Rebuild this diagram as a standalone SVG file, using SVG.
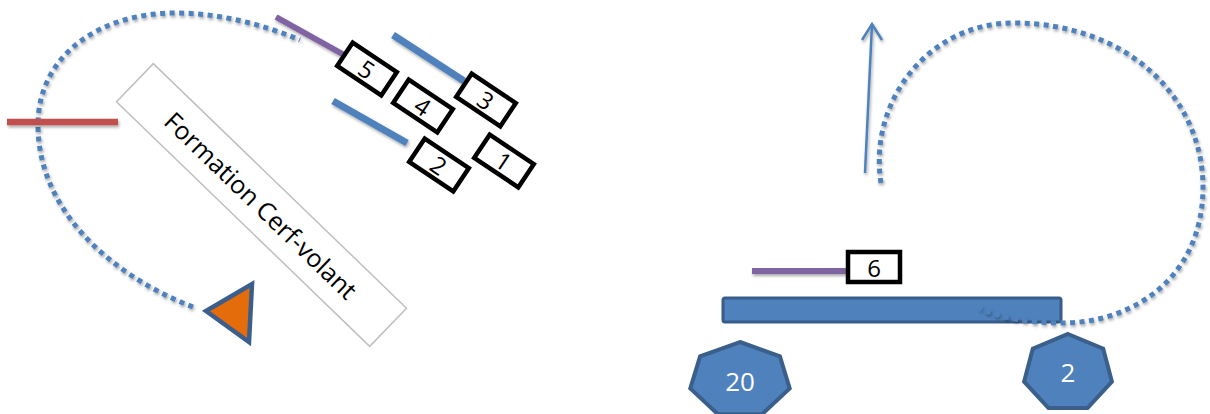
<svg xmlns="http://www.w3.org/2000/svg" width="1210" height="414" viewBox="0 0 1210 414">
<style>
.dots{fill:none;stroke:#4F81BD;stroke-width:5;stroke-dasharray:5 4.5}
.bline{stroke:#4F81BD;stroke-width:7}
.pline{stroke:#8064A2;stroke-width:6}
.box{fill:#fff;stroke:#000;stroke-width:4.5}
.num{font-family:"Open Sans","Liberation Sans",sans-serif;font-size:24px;fill:#000;text-anchor:middle;dominant-baseline:central}
.hep{fill:#4F81BD;stroke:#3A5F8B;stroke-width:4;stroke-linejoin:miter}
.wnum{font-family:"Open Sans","Liberation Sans",sans-serif;font-size:26px;fill:#fff;text-anchor:middle;dominant-baseline:central}
</style>
<defs>
<filter id="sh" filterUnits="userSpaceOnUse" x="0" y="0" width="1210" height="414">
<feDropShadow dx="1" dy="2" stdDeviation="1.5" flood-color="#000" flood-opacity="0.35"/>
</filter>
</defs>
<rect width="1210" height="414" fill="#fff"/>

<g id="label-box">
<g transform="translate(261.5,205) rotate(44)">
<rect x="-176" y="-26.5" width="352" height="53" fill="#fff" stroke="#BFBFBF" stroke-width="1.5"/>
<text x="0" y="0" font-family="Open Sans, Liberation Sans, sans-serif" font-size="25" fill="#000" text-anchor="middle" dominant-baseline="central">Formation Cerf-volant</text>
</g>
</g>

<g id="bar">
<rect x="723" y="298" width="338" height="24" rx="2" fill="#4F81BD" stroke="#385D8A" stroke-width="3"/>
</g>

<g id="connectors" filter="url(#sh)">
<path class="dots" d="M193,307 C110,275 38,210 38,125 C38,55 100,13 175,13 C218,13 262,24 300,40"/>
<path class="dots" d="M881,183 C868,100 930,23 1013,23 C1130,23 1203,100 1203,187 C1203,280 1130,323 1063,323 C1030,323 1000,318 980,308"/>
<line x1="865" y1="173" x2="872" y2="24" stroke="#4F81BD" stroke-width="2.5"/>
<path d="M862,40 L872,24 L882,40" fill="none" stroke="#4F81BD" stroke-width="2.5"/>
</g>

<g id="red-line" filter="url(#sh)">
<line x1="7" y1="122" x2="118" y2="122" stroke="#C0504D" stroke-width="6.5"/>
</g>

<g id="lines" filter="url(#sh)">
<line class="pline" x1="276" y1="17" x2="346" y2="56"/>
<line class="bline" x1="393" y1="35" x2="464" y2="81"/>
<line class="bline" x1="333" y1="101" x2="407" y2="143"/>
<line class="pline" x1="752" y1="271" x2="846" y2="271"/>
</g>

<g id="triangle">
<polygon points="206,311 252,284 249,342" fill="#E46C0A" stroke="#3B5E8C" stroke-width="4.5"/>
</g>

<g id="box5" transform="translate(367,69) rotate(33.7)"><rect class="box" x="-26.5" y="-14" width="53" height="28"/><text class="num" x="0" y="0">5</text></g>
<g id="box4" transform="translate(423,106) rotate(33.7)"><rect class="box" x="-26.5" y="-14" width="53" height="28"/><text class="num" x="0" y="0">4</text></g>
<g id="box3" transform="translate(486,100) rotate(33.7)"><rect class="box" x="-26.5" y="-14" width="53" height="28"/><text class="num" x="0" y="0">3</text></g>
<g id="box2" transform="translate(439,165) rotate(33.7)"><rect class="box" x="-26.5" y="-14" width="53" height="28"/><text class="num" x="0" y="0">2</text></g>
<g id="box1" transform="translate(504,161) rotate(33.7)"><rect class="box" x="-26.5" y="-14" width="53" height="28"/><text class="num" x="0" y="0">1</text></g>

<g id="box6"><rect class="box" x="848" y="252" width="52" height="30"/><text class="num" x="874" y="267">6</text></g>

<g id="hep20">
<polygon class="hep" points="740,342 779.9,356.3 789.7,388.5 762.1,414.2 717.9,414.2 690.3,388.5 700.1,356.3"/>
<text class="wnum" x="740" y="381">20</text>
</g>
<g id="hep2">
<polygon class="hep" points="1068,334 1103.2,348.7 1111.9,381.7 1087.5,408.1 1048.5,408.1 1024.1,381.7 1032.8,348.7"/>
<text class="wnum" x="1068" y="372">2</text>
</g>
</svg>
